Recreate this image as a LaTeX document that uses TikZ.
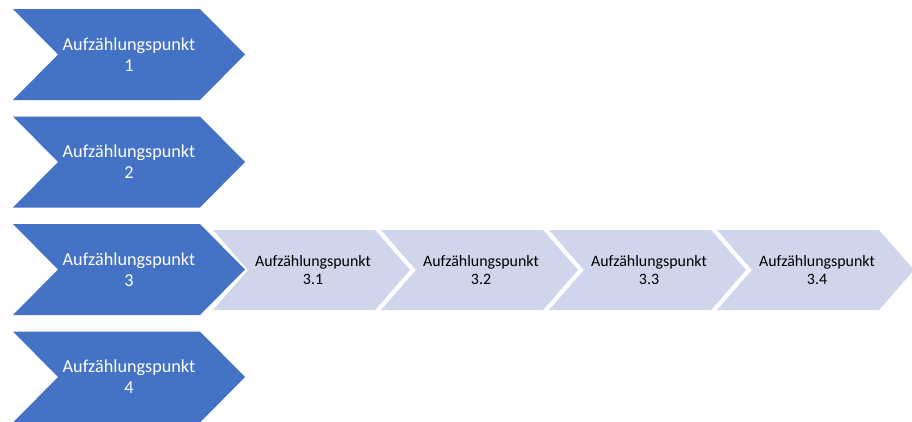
\documentclass[tikz,border=0pt]{standalone}
\usepackage{fontspec}
\setmainfont{Carlito}
\definecolor{chevblue}{HTML}{4472C4}
\definecolor{chevlight}{HTML}{CFD5EA}

\begin{document}
\begin{tikzpicture}[x=1pt,y=-1pt,
  bigtext/.style={text=white, align=center, font=\fontsize{18.2}{21}\selectfont},
  smalltext/.style={text=black, align=center, font=\fontsize{15.9}{18}\selectfont}]
  \useasboundingbox (0,0) rectangle (912,421);
  \clip (0,0) rectangle (912,421);

  % sub points of item 3
  \foreach \k [count=\i from 0] in {1,...,4} {
    \pgfmathsetmacro{\xl}{213+168*\i}
    \fill[chevlight] (\xl,230) -- (\xl+162,230) -- (\xl+197,270) -- (\xl+162,310)
      -- (\xl,310) -- (\xl+35,270) -- cycle;
    \node[smalltext] (sub3\k) at (\xl+100,270) {Aufzählungspunkt\\3.\k};
  }

  % main items
  \foreach \k in {1,...,4} {
    \pgfmathsetmacro{\yt}{9+107.5*(\k-1)}
    \fill[chevblue] (13,\yt) -- (200,\yt) -- (245,\yt+45.5) -- (200,\yt+91)
      -- (13,\yt+91) -- (58,\yt+45.5) -- cycle;
    \node[bigtext] (item\k) at (129,\yt+45.5) {Aufzählungspunkt\\\k};
  }
\end{tikzpicture}
\end{document}
